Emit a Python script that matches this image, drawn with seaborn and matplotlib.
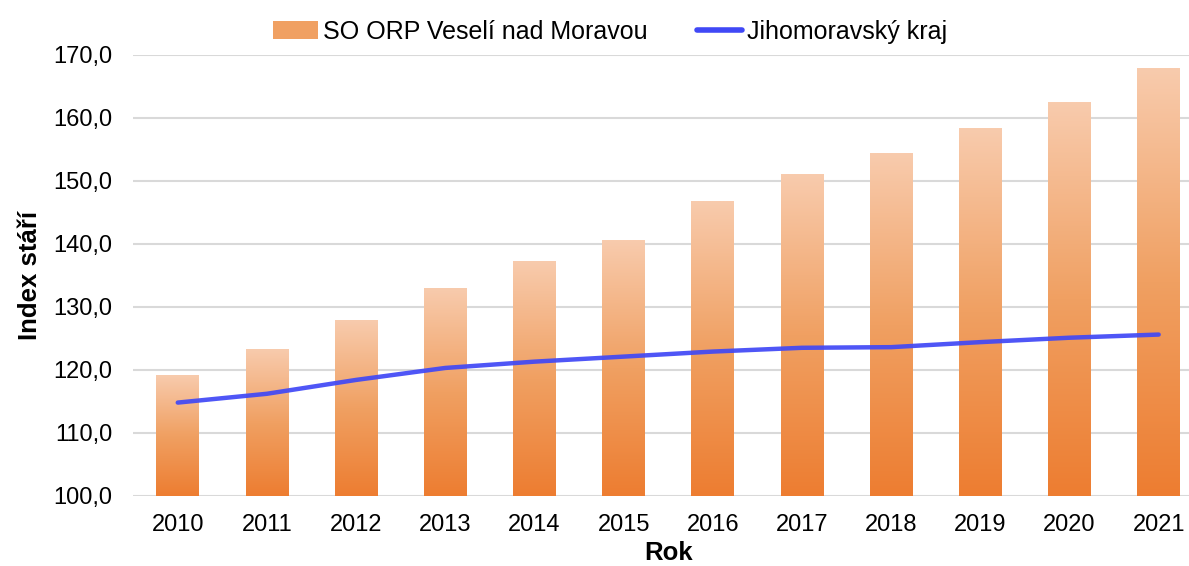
import numpy as np
import pandas as pd
import matplotlib
matplotlib.use('Agg')
import matplotlib.pyplot as plt
import seaborn as sns
from matplotlib.colors import LinearSegmentedColormap
from matplotlib.patches import Patch
from matplotlib.lines import Line2D
from matplotlib.ticker import FuncFormatter

# Data
years = ['2010', '2011', '2012', '2013', '2014', '2015', '2016', '2017', '2018', '2019', '2020', '2021']
orp_vesely = [119.2, 123.3, 127.9, 133.0, 137.3, 140.6, 146.8, 151.0, 154.4, 158.3, 162.4, 167.9]
jmk = [114.8, 116.2, 118.4, 120.3, 121.3, 122.1, 122.9, 123.5, 123.6, 124.4, 125.1, 125.6]

bar_label = 'SO ORP Veselí nad Moravou'
line_label = 'Jihomoravský kraj'

sns.set_theme(style='white')
plt.rcParams['font.family'] = ['Liberation Sans', 'DejaVu Sans']
plt.rcParams['text.color'] = 'black'
plt.rcParams['axes.labelcolor'] = 'black'

fig = plt.figure(figsize=(11.89, 5.66), dpi=100)
ax = fig.add_axes([0.112, 0.124, 0.900, 0.779])

df = pd.DataFrame({'rok': years, 'orp': orp_vesely, 'jmk': jmk})

sns.barplot(data=df, x='rok', y='orp', color='#ED7D31', width=0.48, ax=ax, zorder=2)

# gradient fill for each bar (light top -> orange bottom)
grad_cmap = LinearSegmentedColormap.from_list('peach', ['#ED7D31', '#F0A062', '#F8CBAD'])
grad = np.linspace(0, 1, 256).reshape(-1, 1)
for p in ax.patches:
    x0, y0 = p.get_x(), p.get_y()
    w, h = p.get_width(), p.get_height()
    ax.imshow(grad, extent=[x0, x0 + w, 100, y0 + h], origin='lower', aspect='auto',
              cmap=grad_cmap, zorder=2, interpolation='bilinear')
    p.set_visible(False)

sns.lineplot(x=np.arange(len(years)), y=df['jmk'], color='#4048F6', linewidth=3.2,
             ax=ax, zorder=4, alpha=0.92, solid_capstyle='round')

ax.set_xlim(-0.5, 11.5)
ax.set_ylim(100, 170)
ax.set_yticks(np.arange(100, 171, 10))
ax.yaxis.set_major_formatter(FuncFormatter(lambda v, _: f'{v:.1f}'.replace('.', ',')))
ax.set_xticks(np.arange(len(years)))
ax.set_xticklabels(years)
ax.grid(axis='y', color='#D9D9D9', linewidth=1.5, zorder=0)
ax.set_axisbelow(True)
for s in ['top', 'right', 'left', 'bottom']:
    ax.spines[s].set_visible(False)
ax.tick_params(axis='both', labelsize=17, labelcolor='black', length=0)
ax.tick_params(axis='y', pad=15)
ax.tick_params(axis='x', pad=13)
ax.set_xlabel('Rok', fontsize=18.5, fontweight='bold', labelpad=4)
ax.set_ylabel('Index stáří', fontsize=18.5, fontweight='bold', labelpad=8)

handles = [Patch(facecolor='#F0A062', edgecolor='none'),
           Line2D([0], [0], color='#4048F6', linewidth=4, solid_capstyle='round')]
fig.legend(handles, [bar_label, line_label], loc='upper center', bbox_to_anchor=(0.513, 1.005),
           ncol=2, frameon=False, fontsize=18, handlelength=1.8, handletextpad=0.2,
           columnspacing=2.0)

fig.savefig('out.png', dpi=100)
